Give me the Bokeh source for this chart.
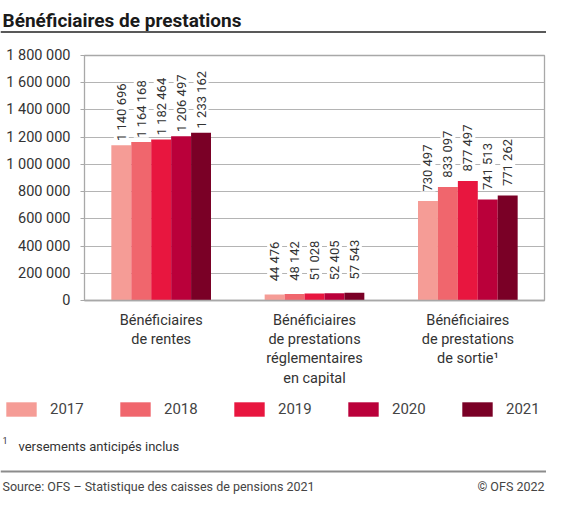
import math
from bokeh.plotting import figure
from bokeh.models import (ColumnDataSource, FactorRange, Range1d, FixedTicker, LabelSet,
                          Label, Span, Legend, LegendItem)
from bokeh.core.properties import value
from bokeh.transform import dodge
from bokeh.layouts import column
from bokeh.embed import file_html
from bokeh.resources import INLINE

# ---------------- data ----------------
title_text = "Bénéficiaires de prestations"
categories = ["Bénéficiaires\nde rentes",
              "Bénéficiaires\nde prestations\nréglementaires\nen capital",
              "Bénéficiaires\nde prestations\nde sortie¹"]
years = ["2017", "2018", "2019", "2020", "2021"]
colors = ["#F59C96", "#F0666D", "#E8163F", "#BA003A", "#7A0026"]
v2017 = [1140696, 44476, 730497]
v2018 = [1164168, 48142, 833097]
v2019 = [1182464, 51028, 877497]
v2020 = [1206497, 52405, 741513]
v2021 = [1233162, 57543, 771262]
series = [v2017, v2018, v2019, v2020, v2021]
y_ticks = [0, 200000, 400000, 600000, 800000, 1000000, 1200000, 1400000, 1600000, 1800000]
y_tick_labels = ["0", "200 000", "400 000", "600 000", "800 000", "1 000 000",
                 "1 200 000", "1 400 000", "1 600 000", "1 800 000"]
footnote_mark = "1"
footnote_text = "versements anticipés inclus"
source_text = "Source: OFS – Statistique des caisses de pensions 2021"
copyright_text = "© OFS 2022"

FONT = "Roboto"
TXT = "#333333"
GRID = "#b4b4b4"
FRAME = "#a8a8a8"
W = 546


def fmt(v):
    return f"{v:,}".replace(",", " ")


def blank_fig(h):
    f = figure(width=W, height=h, x_range=Range1d(0, W), y_range=Range1d(h, 0),
               output_backend="svg", toolbar_location=None,
               x_axis_location=None, y_axis_location=None,
               min_border=0, min_border_left=0, min_border_right=0,
               min_border_top=0, min_border_bottom=0, frame_align=False)
    f.grid.visible = False
    f.outline_line_color = None
    f.background_fill_color = "white"
    f.border_fill_color = "white"
    return f


# ---------------- header ----------------
HH = 34
header = blank_fig(HH)
header.add_layout(Label(x=2, y=20, text=title_text, text_font=FONT, text_font_size="19px",
                        text_font_style="bold", text_color="#1a1a1a",
                        text_baseline="alphabetic", text_align="left"))
header.add_layout(Span(location=31.5, dimension="width", line_color="#222222", line_width=1.6))

# ---------------- main chart ----------------
MH = 356
p = figure(width=W, height=MH, x_range=FactorRange(factors=categories),
           y_range=Range1d(0, 1800000), output_backend="svg", toolbar_location=None,
           min_border_left=84, min_border_right=2, min_border_top=21, min_border_bottom=90,
           frame_align=False)
p.background_fill_color = "white"
p.border_fill_color = "white"
p.outline_line_color = FRAME
p.outline_line_width = 1.3
p.xgrid.visible = False
p.ygrid.grid_line_color = GRID
p.ygrid.grid_line_width = 1.2
p.yaxis.ticker = FixedTicker(ticks=y_ticks)
p.yaxis.major_label_overrides = {t: l for t, l in zip(y_ticks, y_tick_labels)}
p.yaxis.axis_line_color = None
p.yaxis.major_tick_in = 0
p.yaxis.major_tick_out = 4
p.yaxis.major_tick_line_color = FRAME
p.yaxis.minor_tick_line_color = None
p.yaxis.major_label_standoff = 10
p.yaxis.major_label_text_font = FONT
p.yaxis.major_label_text_font_size = "14.5px"
p.yaxis.major_label_text_color = TXT
p.xaxis.axis_line_color = FRAME
p.xaxis.axis_line_width = 1.3
p.xaxis.major_tick_line_color = None
p.xaxis.minor_tick_line_color = None
p.xaxis.major_label_standoff = 5
p.xaxis.major_label_text_font = FONT
p.xaxis.major_label_text_font_size = "14.5px"
p.xaxis.major_label_text_color = TXT
p.xaxis.major_label_text_line_height = 1.14

# ---------------- footer ----------------
FH = 105
footer = blank_fig(FH)

bar_w = 0.13
offsets = [-2 * bar_w, -bar_w, 0.0, bar_w, 2 * bar_w]
items = []
for yr, col, vals, off in zip(years, colors, series, offsets):
    src = ColumnDataSource(dict(cat=categories, val=vals, lab=[fmt(v) for v in vals]))
    p.vbar(x=dodge("cat", off, range=p.x_range), top="val", width=bar_w, source=src,
           fill_color=col, line_color=None)
    p.add_layout(LabelSet(x=dodge("cat", off, range=p.x_range), y="val", text="lab", source=src,
                          angle=math.pi / 2, text_align="center", text_baseline="middle",
                          y_offset=33, text_font=value(FONT), text_font_size=value("13px"),
                          text_color=TXT, background_fill_color="white"))
    # legend proxy (hidden) living in the footer figure
    proxy = footer.vbar(x=dodge("cat", off, range=p.x_range), top="val", width=bar_w,
                        source=src, fill_color=col, line_color=None, visible=False)
    items.append(LegendItem(label=yr, renderers=[proxy]))

legend = Legend(items=items, orientation="horizontal", location=(2, FH - 28),
                glyph_width=38, glyph_height=18, label_height=18, label_width=56,
                label_standoff=10, spacing=10, padding=0, margin=0,
                border_line_color=None, background_fill_alpha=0, click_policy="none",
                label_text_font=FONT, label_text_font_size="15px", label_text_color="#444444")
footer.add_layout(legend, "center")
footer.add_layout(Label(x=2, y=50, text=footnote_mark, text_font=FONT, text_font_size="9px",
                        text_color=TXT, text_baseline="middle", text_align="left"))
footer.add_layout(Label(x=18, y=56, text=footnote_text, text_font=FONT, text_font_size="13px",
                        text_color=TXT, text_baseline="middle", text_align="left"))
footer.add_layout(Span(location=81, dimension="width", line_color="#8c8c8c", line_width=2))
footer.add_layout(Label(x=2, y=96, text=source_text, text_font=FONT, text_font_size="12.5px",
                        text_color="#444444", text_baseline="middle", text_align="left"))
footer.add_layout(Label(x=W - 2, y=96, text=copyright_text, text_font=FONT, text_font_size="12.5px",
                        text_color="#444444", text_baseline="middle", text_align="right"))

layout = column(header, p, footer, spacing=0)
open("out.html", "w").write(file_html(layout, INLINE))
